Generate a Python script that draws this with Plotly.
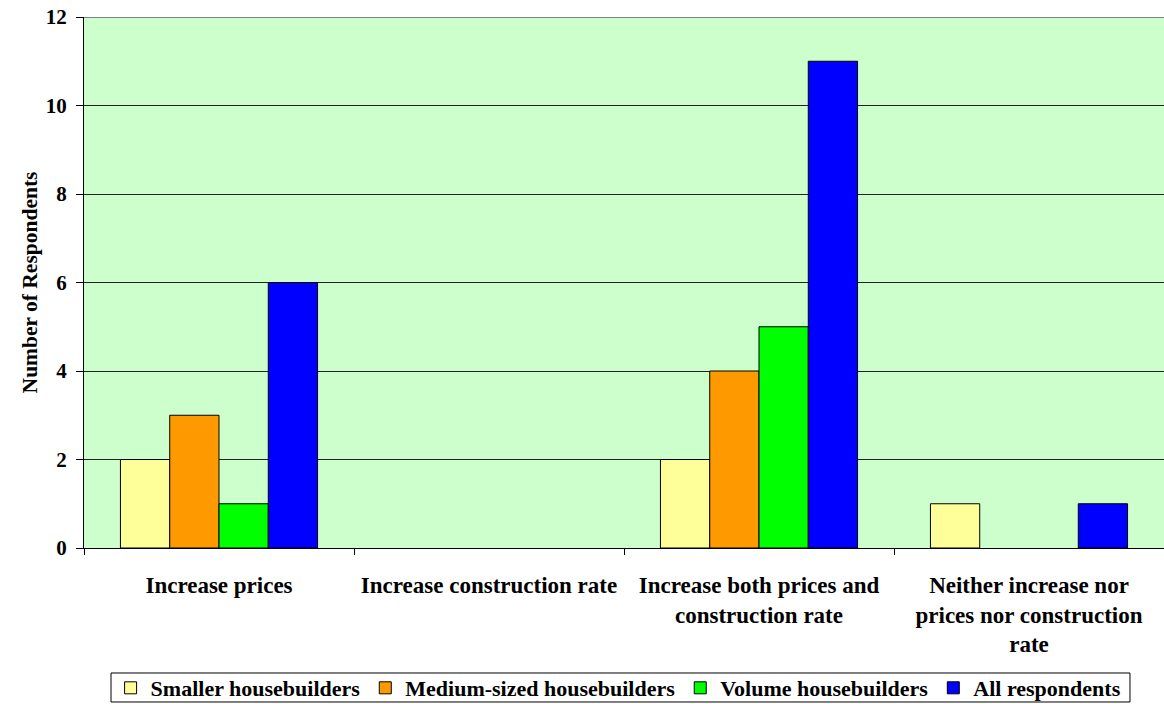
import plotly.graph_objects as go

categories = [
    "Increase prices",
    "Increase construction rate",
    "Increase both prices and<br>construction rate",
    "Neither increase nor<br>prices nor construction<br>rate",
]
smaller = [2, 0, 2, 1]
medium = [3, 0, 4, 0]
volume = [1, 0, 5, 0]
all_resp = [6, 0, 11, 1]

series = [
    ("Smaller housebuilders", smaller, "#FFFF99"),
    ("Medium-sized housebuilders", medium, "#FF9900"),
    ("Volume housebuilders", volume, "#00FF00"),
    ("All respondents", all_resp, "#0000FF"),
]

FONT = "Liberation Serif"

fig = go.Figure()
for name, vals, color in series:
    fig.add_trace(go.Bar(
        name=name,
        x=categories,
        y=[v if v != 0 else None for v in vals],
        marker=dict(color=color, line=dict(color="black", width=1)),
    ))

fig.update_layout(
    width=1164, height=704,
    margin=dict(l=84, r=0, t=17, b=156, autoexpand=False),
    paper_bgcolor="white",
    plot_bgcolor="#CCFFCC",
    barmode="group",
    bargap=0.27,
    bargroupgap=0,
    font=dict(family=FONT, color="black", size=22),
    showlegend=True,
    legend=dict(
        orientation="h",
        x=0.495, xanchor="center",
        y=-0.2637, yanchor="middle",
        borderwidth=0, bgcolor="rgba(0,0,0,0)",
        font=dict(family=FONT, size=22, weight="bold"),
        itemwidth=30,
        tracegroupgap=0,
    ),
    xaxis=dict(
        showline=True, linecolor="black", linewidth=1,
        ticks="outside", tickson="boundaries", ticklen=6, tickcolor="black",
        tickfont=dict(family=FONT, size=23, weight="bold"),
        ticklabelstandoff=16,
        showgrid=False,
    ),
    yaxis=dict(
        range=[0, 12], dtick=2,
        showline=True, linecolor="black", linewidth=1,
        ticks="outside", ticklen=7, tickcolor="black",
        tickfont=dict(family=FONT, size=21, weight="bold"),
        ticklabelstandoff=5,
        showgrid=True, gridcolor="#222222", gridwidth=1,
        zeroline=False,
        title=dict(text="Number of Respondents",
                   font=dict(family=FONT, size=21.5, weight="bold"),
                   standoff=2),
    ),
)

# grey frame line along the top of the plotting area
fig.add_shape(type="line", xref="paper", yref="y", x0=0, x1=1, y0=12, y1=12,
              line=dict(color="#808080", width=2))

# frame around the legend row
fig.add_shape(type="rect", xref="paper", yref="paper",
              x0=0.025, x1=0.9685, y0=-0.2354, y1=-0.29,
              line=dict(color="black", width=1), fillcolor="rgba(0,0,0,0)")

fig.write_html("out.html")
